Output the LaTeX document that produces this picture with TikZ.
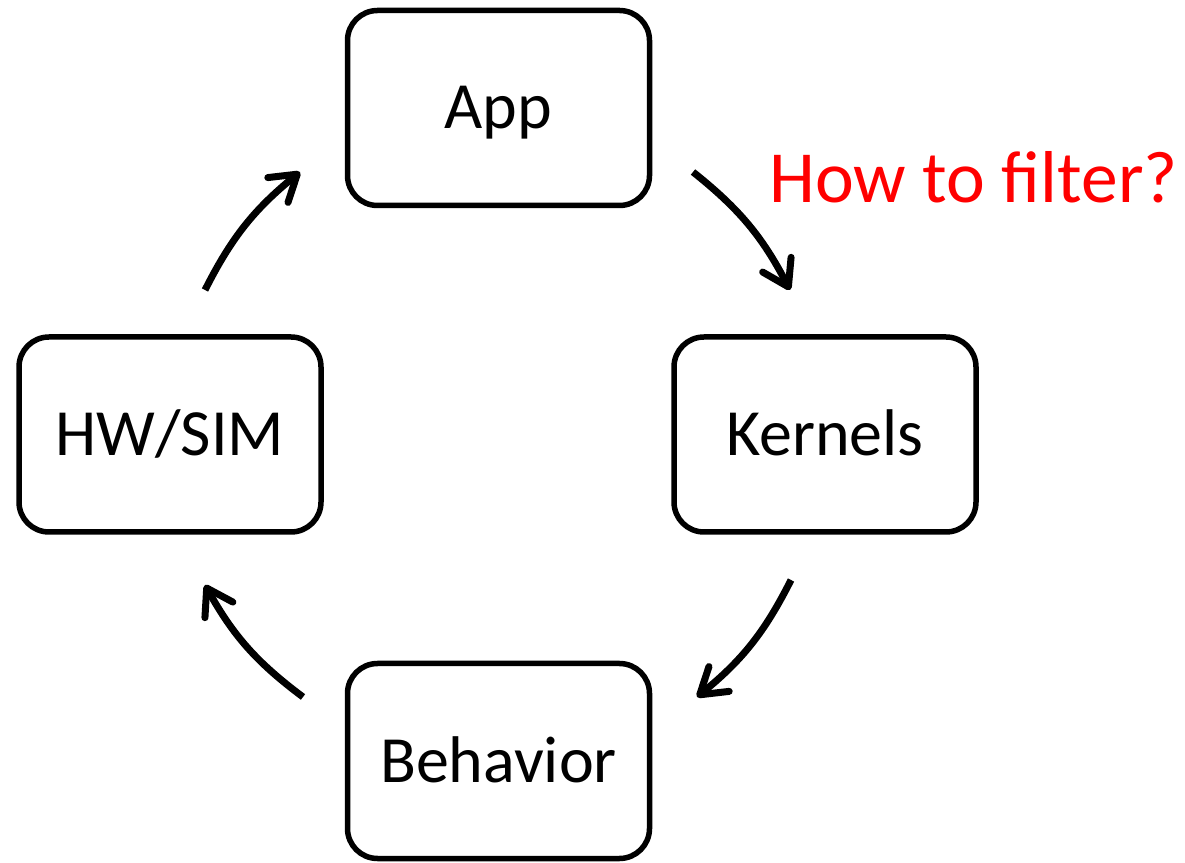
\documentclass[tikz,border=0pt]{standalone}
\usepackage{fontspec}
\setmainfont{Carlito}
\usetikzlibrary{arrows.meta}
\begin{document}
\begin{tikzpicture}[x=1pt,y=1pt,
  box/.style={draw=black, line width=5.5pt, rounded corners=30pt, minimum width=302pt, minimum height=195pt, inner sep=0pt, font=\fontsize{66}{78}\selectfont, text height=42pt, text depth=0pt, align=center},
  cyc/.style={line width=7pt, -{Straight Barb[length=25pt,width=32pt,round]}, bend left=12}]
\fill[white] (0,0) rectangle (1185,862);
\useasboundingbox (0,0) rectangle (1185,862);
\node[box] (app) at (498.5,754) {App};
\node[box] (ker) at (825,427.5) {Kernels};
\node[box] (hw) at (170,427.5) {HW/SIM};
\node[box] (beh) at (498.5,101) {Behavior};
\node[anchor=base west, text=red, inner sep=0pt, font=\fontsize{73.5}{88}\selectfont] (q) at (769,659) {How to filter?};
\coordinate (a1) at (693,690);
\coordinate (a2) at (790,572);
\coordinate (b1) at (791,282);
\coordinate (b2) at (697,165);
\coordinate (c1) at (303,165);
\coordinate (c2) at (205,277);
\coordinate (d1) at (205,572);
\coordinate (d2) at (300,690);
\draw[cyc] (a1) to (a2);
\draw[cyc] (b1) to (b2);
\draw[cyc] (c1) to (c2);
\draw[cyc] (d1) to (d2);
\end{tikzpicture}
\end{document}
